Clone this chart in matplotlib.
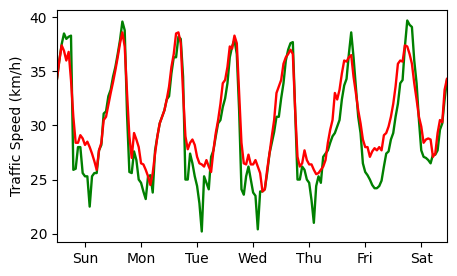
import numpy as np
import matplotlib
matplotlib.use("Agg")
import matplotlib.pyplot as plt

# Hourly traffic speed over one week (168 hours)
day_labels = ["Sun", "Mon", "Tue", "Wed", "Thu", "Fri", "Sat"]

speed_green = [
    34.3, 36.0, 37.5, 38.5, 38.0, 38.2, 38.3, 25.9, 26.0, 28.0, 28.0, 25.6,
    25.3, 25.3, 22.5, 25.3, 25.6, 25.6, 27.7, 28.2, 31.1, 31.3, 32.7, 33.3,
    34.5, 35.4, 36.6, 37.9, 39.6, 38.8, 31.0, 25.7, 25.6, 27.6, 26.8, 25.0,
    24.7, 23.9, 23.2, 25.3, 25.4, 23.8, 27.7, 29.0, 30.2, 30.8, 31.4, 32.4,
    32.7, 34.8, 36.3, 36.3, 38.2, 38.0, 34.5, 25.0, 25.0, 27.4, 26.5, 25.3,
    24.4, 22.8, 20.2, 25.3, 24.7, 24.1, 27.1, 27.7, 29.0, 30.2, 30.5, 31.7,
    32.5, 33.9, 36.3, 37.3, 37.9, 36.6, 31.4, 24.1, 23.6, 25.3, 26.2, 25.0,
    23.8, 23.5, 20.4, 23.9, 23.9, 24.1, 25.6, 27.4, 28.4, 29.4, 30.8, 30.8,
    32.5, 33.9, 36.0, 37.0, 37.6, 37.7, 31.4, 25.0, 25.0, 26.2, 25.9, 25.0,
    24.7, 23.1, 21.0, 24.4, 25.3, 24.7, 27.1, 27.4, 27.7, 28.4, 29.0, 29.3,
    29.9, 30.5, 32.4, 33.7, 34.3, 36.6, 38.6, 36.3, 33.6, 30.8, 29.3, 26.5,
    25.7, 25.4, 25.0, 24.5, 24.2, 24.2, 24.4, 24.9, 26.2, 27.4, 27.6, 28.7,
    29.3, 30.8, 32.0, 33.9, 34.2, 37.3, 39.7, 39.3, 39.1, 36.0, 33.9, 30.5,
    27.7, 27.1, 27.0, 26.8, 26.5, 27.3, 27.3, 27.7, 29.6, 30.2, 32.4, 34.2,
]

speed_red = [
    34.3, 36.0, 37.4, 36.9, 36.0, 36.8, 34.2, 30.8, 28.4, 28.4, 29.1, 28.8,
    28.2, 28.5, 28.0, 27.4, 26.7, 25.9, 27.7, 28.4, 30.5, 30.8, 31.9, 33.0,
    34.0, 35.1, 36.3, 37.6, 38.6, 37.3, 33.0, 29.0, 27.0, 29.3, 28.7, 28.0,
    26.5, 26.4, 25.9, 25.3, 24.5, 25.6, 27.4, 29.0, 30.2, 30.8, 31.4, 32.4,
    33.6, 35.4, 36.6, 38.5, 38.6, 37.6, 33.0, 29.0, 27.8, 28.4, 28.7, 28.2,
    27.1, 26.5, 26.4, 26.2, 26.8, 26.2, 25.7, 27.7, 29.3, 30.5, 32.0, 33.9,
    34.2, 35.4, 37.3, 37.1, 38.3, 37.6, 33.0, 28.4, 26.5, 26.4, 27.3, 26.4,
    26.4, 26.8, 26.2, 25.6, 23.9, 24.1, 25.9, 27.4, 29.0, 30.5, 33.0, 33.6,
    34.2, 35.7, 36.3, 36.6, 37.0, 36.6, 31.4, 27.1, 26.2, 26.5, 27.7, 26.8,
    26.4, 26.4, 25.9, 25.5, 25.6, 25.9, 26.2, 26.8, 28.4, 29.6, 30.5, 33.0,
    32.4, 33.3, 34.8, 36.0, 35.9, 36.3, 36.5, 34.5, 33.0, 31.4, 30.2, 28.7,
    28.0, 28.0, 27.1, 27.6, 27.9, 27.7, 28.0, 27.7, 29.1, 29.3, 29.9, 30.8,
    32.0, 33.6, 35.7, 36.0, 35.9, 37.4, 37.3, 36.6, 35.7, 33.9, 32.4, 30.8,
    29.9, 28.4, 28.7, 28.8, 28.7, 27.1, 27.4, 29.3, 30.5, 30.3, 33.3, 34.3,
]

hours = np.arange(len(speed_green))

fig = plt.figure(figsize=(4.57, 2.76), dpi=100)
ax = fig.add_axes([0.1247, 0.123, 0.8533, 0.841])

ax.plot(hours, speed_green, color="green", linewidth=1.7)
ax.plot(hours, speed_red, color="red", linewidth=1.7)

ax.set_xlim(0, 167)
ax.set_xticks(np.arange(12, 168, 24))
ax.set_xticklabels(day_labels)
ax.set_ylabel("Traffic Speed (km/h)")

fig.savefig("out.png", dpi=100)
